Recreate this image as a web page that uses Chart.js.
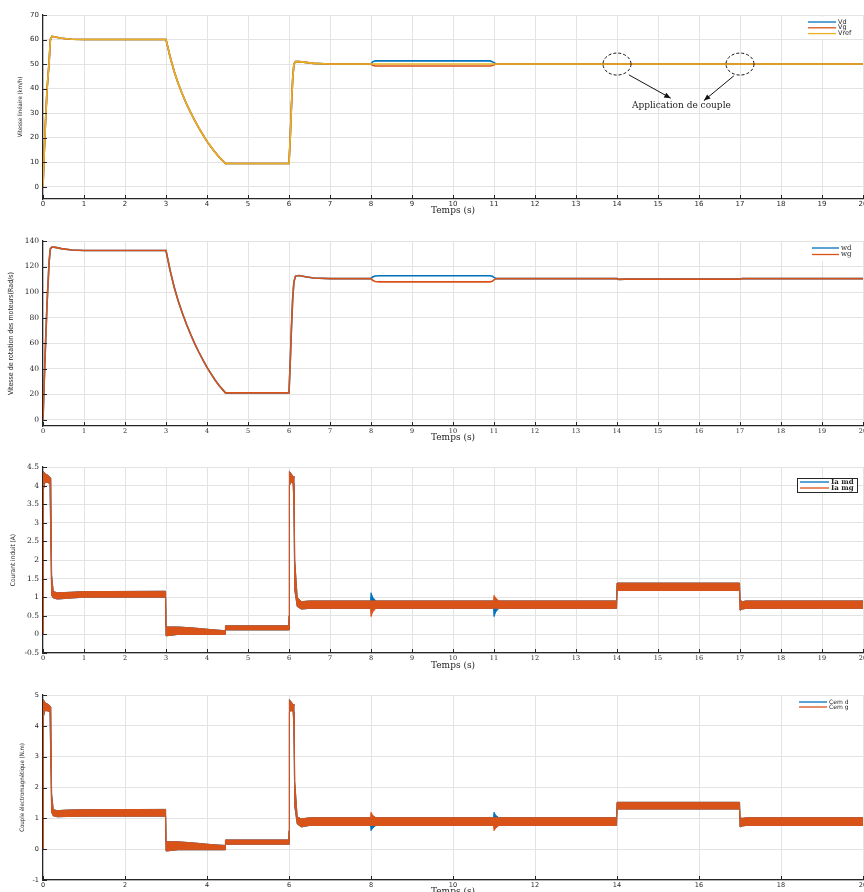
<!DOCTYPE html>
<html>
<head>
<meta charset="utf-8">
<script src="https://cdn.jsdelivr.net/npm/chart.js@4.4.1/dist/chart.umd.min.js"></script>
<style>
  html, body { margin: 0; padding: 0; background: #fff; overflow: hidden; width: 864px; height: 892px; }
  canvas { position: absolute; left: 0; }
</style>
</head>
<body>
<canvas id="vitesse-lin" width="880" height="220" style="top:0px"></canvas>
<canvas id="vitesse-rot" width="880" height="222" style="top:222px"></canvas>
<canvas id="courant" width="880" height="224" style="top:448px"></canvas>
<canvas id="couple" width="880" height="228" style="top:676px"></canvas>
<script>
const BLUE = "#0072BD";
const ORANGE = "#D95319";
const YELLOW = "#EDB120";

// graduations
const xTicks = [0, 1, 2, 3, 4, 5, 6, 7, 8, 9, 10, 11, 12, 13, 14, 15, 16, 17, 18, 19, 20];
const xTicksCouple = [0, 2, 4, 6, 8, 10, 12, 14, 16, 18, 20];
const yTicksV = [0, 10, 20, 30, 40, 50, 60, 70];
const yTicksW = [0, 20, 40, 60, 80, 100, 120, 140];
const yTicksI = [-0.5, 0, 0.5, 1, 1.5, 2, 2.5, 3, 3.5, 4, 4.5];
const yTicksC = [-1, 0, 1, 2, 3, 4, 5];

// 1) vitesse linéaire (km/h)
const tV = [0, 0.03, 0.06, 0.1, 0.15, 0.18, 0.22, 0.3, 0.45, 0.7, 1.0, 3.0, 3.1, 3.2, 3.3, 3.4, 3.5, 3.6, 3.7, 3.8, 3.9, 4.0, 4.1, 4.2, 4.3, 4.45, 6.0, 6.03, 6.06, 6.09, 6.12, 6.16, 6.25, 6.4, 6.6, 7.0, 8.0, 8.04, 8.1, 8.2, 10.9, 10.96, 11.0, 11.06, 14.0, 14.05, 14.2, 17.0, 17.05, 17.2, 20];
const vd = [0, 14, 26, 40, 51, 60, 61.3, 61, 60.5, 60.1, 60, 60, 53, 47, 42, 37.7, 33.8, 30.3, 27, 24, 21.2, 18.5, 16.2, 14, 12, 9.5, 9.5, 20, 33, 44, 50, 51, 51, 50.7, 50.3, 50, 50, 50.9, 51.3, 51.3, 51.3, 51, 50.5, 50, 50, 49.9, 50, 50, 50.1, 50, 50];
const vg = [0, 14, 26, 40, 51, 60, 61.3, 61, 60.5, 60.1, 60, 60, 53, 47, 42, 37.7, 33.8, 30.3, 27, 24, 21.2, 18.5, 16.2, 14, 12, 9.5, 9.5, 20, 33, 44, 50, 51, 51, 50.7, 50.3, 50, 50, 49.5, 49.2, 49.2, 49.2, 49.4, 49.7, 50, 50, 49.9, 50, 50, 49.9, 50, 50];
const vref = [0, 14, 26, 40, 51, 60, 61.3, 61, 60.5, 60.1, 60, 60, 53, 47, 42, 37.7, 33.8, 30.3, 27, 24, 21.2, 18.5, 16.2, 14, 12, 9.5, 9.5, 20, 33, 44, 50, 51, 51, 50.7, 50.3, 50, 50, 50, 50, 50, 50, 50, 50, 50, 50, 50, 50, 50, 50, 50, 50];

// annotation "Application de couple"
const noteTimes = [14, 17];
const noteLevel = 50;
const arrowStart = [[14.29, 45.6], [16.85, 45.2]];
const arrowEnd = [[15.31, 36.1], [16.12, 35.1]];
const noteText = "Application de couple";
const notePos = [15.57, 33];

// 2) vitesse de rotation (rad/s)
const tW = tV;
const wd = [0, 30, 58, 92, 124, 134, 135.3, 135, 134, 133, 132.5, 132.5, 117, 103.8, 92.8, 83.3, 74.7, 66.9, 59.6, 53, 46.8, 40.9, 35.8, 30.9, 26.5, 21, 21, 45, 72, 95, 108, 112.5, 113, 112, 111, 110.5, 110.5, 111.8, 112.6, 112.8, 112.8, 112.3, 111.5, 110.5, 110.5, 109.9, 110.1, 110.1, 110.6, 110.5, 110.5];
const wg = [0, 30, 58, 92, 124, 134, 135.3, 135, 134, 133, 132.5, 132.5, 117, 103.8, 92.8, 83.3, 74.7, 66.9, 59.6, 53, 46.8, 40.9, 35.8, 30.9, 26.5, 21, 21, 45, 72, 95, 108, 112.5, 113, 112, 111, 110.5, 110.5, 109.2, 108.3, 108, 108, 108.5, 109.5, 110.5, 110.5, 109.9, 110.1, 110.1, 110.6, 110.5, 110.5];

// 3) courant induit (A) : enveloppe haute / basse de l'ondulation
const tI = [0, 0.01, 0.05, 0.12, 0.17, 0.19, 0.21, 0.25, 0.35, 0.6, 1.0, 2.99, 3.0, 3.3, 3.7, 4.1, 4.44, 4.45, 5.99, 6.0, 6.01, 6.05, 6.1, 6.12, 6.14, 6.2, 6.3, 6.5, 7.99, 8.0, 8.04, 8.12, 10.99, 11.0, 11.04, 11.12, 13.99, 14.0, 16.99, 17.0, 17.06, 17.15, 20];
const iaMgHi = [0, 4.38, 4.32, 4.28, 4.22, 4.2, 1.6, 1.15, 1.12, 1.13, 1.15, 1.16, 0.2, 0.2, 0.17, 0.13, 0.1, 0.23, 0.23, 0.5, 4.38, 4.32, 4.25, 4.2, 2.0, 1.0, 0.88, 0.9, 0.9, 0.9, 0.9, 0.9, 0.9, 1.05, 0.98, 0.9, 0.9, 1.38, 1.38, 0.92, 0.88, 0.9, 0.9];
const iaMgLo = [0, 3.9, 4.1, 4.08, 4.05, 2.5, 1.05, 0.98, 0.95, 0.97, 1.0, 1.0, -0.04, 0.0, 0.0, 0.0, 0.0, 0.12, 0.12, 0.12, 4.0, 4.1, 4.05, 3.5, 1.2, 0.75, 0.68, 0.7, 0.7, 0.48, 0.6, 0.7, 0.7, 0.7, 0.7, 0.7, 0.7, 1.18, 1.18, 0.65, 0.68, 0.7, 0.7];
const iaMdHi = [0, 4.38, 4.32, 4.28, 4.22, 4.2, 1.6, 1.15, 1.12, 1.13, 1.15, 1.16, 0.2, 0.2, 0.17, 0.13, 0.1, 0.23, 0.23, 0.5, 4.38, 4.32, 4.25, 4.2, 2.0, 1.0, 0.88, 0.9, 0.9, 1.12, 1.0, 0.9, 0.9, 0.9, 0.9, 0.9, 0.9, 1.38, 1.38, 0.92, 0.88, 0.9, 0.9];
const iaMdLo = [0, 3.9, 4.1, 4.08, 4.05, 2.5, 1.05, 0.98, 0.95, 0.97, 1.0, 1.0, -0.04, 0.0, 0.0, 0.0, 0.0, 0.12, 0.12, 0.12, 4.0, 4.1, 4.05, 3.5, 1.2, 0.75, 0.68, 0.7, 0.7, 0.7, 0.7, 0.7, 0.7, 0.48, 0.6, 0.7, 0.7, 1.18, 1.18, 0.65, 0.68, 0.7, 0.7];

// 4) couple électromagnétique (N.m)
const tC = tI;
const cemGHi = [0, 4.85, 4.75, 4.7, 4.65, 4.6, 1.8, 1.28, 1.25, 1.27, 1.28, 1.29, 0.24, 0.24, 0.2, 0.15, 0.12, 0.3, 0.3, 0.6, 4.85, 4.78, 4.7, 4.65, 2.2, 1.05, 0.98, 1.02, 1.02, 1.2, 1.1, 1.02, 1.02, 1.02, 1.02, 1.02, 1.02, 1.52, 1.52, 1.02, 1.0, 1.02, 1.02];
const cemGLo = [0, 4.3, 4.5, 4.48, 4.45, 2.8, 1.2, 1.08, 1.05, 1.06, 1.07, 1.07, -0.06, -0.02, -0.02, -0.02, -0.02, 0.16, 0.16, 0.16, 4.45, 4.5, 4.45, 4.0, 1.4, 0.82, 0.72, 0.77, 0.77, 0.77, 0.77, 0.77, 0.77, 0.6, 0.68, 0.77, 0.77, 1.3, 1.3, 0.72, 0.75, 0.77, 0.77];
const cemDHi = [0, 4.85, 4.75, 4.7, 4.65, 4.6, 1.8, 1.28, 1.25, 1.27, 1.28, 1.29, 0.24, 0.24, 0.2, 0.15, 0.12, 0.3, 0.3, 0.6, 4.85, 4.78, 4.7, 4.65, 2.2, 1.05, 0.98, 1.02, 1.02, 1.02, 1.02, 1.02, 1.02, 1.2, 1.1, 1.02, 1.02, 1.52, 1.52, 1.02, 1.0, 1.02, 1.02];
const cemDLo = [0, 4.3, 4.5, 4.48, 4.45, 2.8, 1.2, 1.08, 1.05, 1.06, 1.07, 1.07, -0.06, -0.02, -0.02, -0.02, -0.02, 0.16, 0.16, 0.16, 4.45, 4.5, 4.45, 4.0, 1.4, 0.82, 0.72, 0.77, 0.77, 0.6, 0.68, 0.77, 0.77, 0.77, 0.77, 0.77, 0.77, 1.3, 1.3, 0.72, 0.75, 0.77, 0.77];

function pts(t, v) {
  return t.map((x, i) => ({ x: x, y: v[i] }));
}

function ligne(label, t, v, color, width) {
  return { label: label, data: pts(t, v), borderColor: color, borderWidth: width, pointRadius: 0, tension: 0, fill: false };
}

// bande remplie entre l'enveloppe haute et basse
function bande(label, t, hi, lo, color) {
  return [
    { label: label, data: pts(t, hi), borderColor: color, backgroundColor: color, borderWidth: 1, pointRadius: 0, fill: "+1" },
    { label: "", data: pts(t, lo), borderColor: color, borderWidth: 1, pointRadius: 0, fill: false },
  ];
}

// petites graduations intérieures façon MATLAB
const innerTicks = {
  id: "innerTicks",
  afterDraw(chart) {
    const { ctx, chartArea: a, scales: { x, y } } = chart;
    ctx.save();
    ctx.strokeStyle = "#262626";
    ctx.lineWidth = 1;
    ctx.beginPath();
    x.ticks.forEach((t) => {
      const px = Math.round(x.getPixelForValue(t.value)) + 0.5;
      ctx.moveTo(px, a.bottom);
      ctx.lineTo(px, a.bottom - 4);
    });
    y.ticks.forEach((t) => {
      const py = Math.round(y.getPixelForValue(t.value)) + 0.5;
      ctx.moveTo(a.left, py);
      ctx.lineTo(a.left + 4, py);
    });
    ctx.stroke();
    ctx.restore();
  },
};

const lineLegend = {
  id: "lineLegend",
  afterDraw(chart, args, o) {
    if (!o.items) return;
    const { ctx, chartArea: a } = chart;
    const bx = a.right + o.box[0], by = a.top + o.box[1];
    ctx.save();
    ctx.fillStyle = "#fff";
    ctx.fillRect(bx, by, o.box[2], o.box[3]);
    if (o.border) {
      ctx.strokeStyle = "#262626";
      ctx.lineWidth = 1;
      ctx.strokeRect(Math.round(bx) + 0.5, Math.round(by) + 0.5, o.box[2], o.box[3]);
    }
    ctx.font = o.font;
    ctx.textBaseline = "middle";
    o.items.forEach((it, i) => {
      const y = a.top + o.dy + i * o.row;
      const x = a.right + o.dx;
      ctx.strokeStyle = it.color;
      ctx.lineWidth = 1.3;
      ctx.beginPath();
      ctx.moveTo(x, y);
      ctx.lineTo(x + o.len, y);
      ctx.stroke();
      ctx.fillStyle = "#262626";
      ctx.fillText(it.text, x + o.len + 2, y);
    });
    ctx.restore();
  },
};

const coupleNotes = {
  id: "coupleNotes",
  afterDatasetsDraw(chart, args, o) {
    if (!o.show) return;
    const { ctx, scales: { x, y } } = chart;
    ctx.save();
    ctx.strokeStyle = "#111";
    ctx.fillStyle = "#111";
    ctx.lineWidth = 1;
    ctx.setLineDash([3, 2]);
    noteTimes.forEach((t) => {
      ctx.beginPath();
      ctx.ellipse(x.getPixelForValue(t), y.getPixelForValue(noteLevel), 14, 11, 0, 0, Math.PI * 2);
      ctx.stroke();
    });
    ctx.setLineDash([]);
    arrowStart.forEach((s, i) => {
      const x0 = x.getPixelForValue(s[0]), y0 = y.getPixelForValue(s[1]);
      const x1 = x.getPixelForValue(arrowEnd[i][0]), y1 = y.getPixelForValue(arrowEnd[i][1]);
      const ang = Math.atan2(y1 - y0, x1 - x0);
      ctx.beginPath();
      ctx.moveTo(x0, y0);
      ctx.lineTo(x1, y1);
      ctx.stroke();
      ctx.beginPath();
      ctx.moveTo(x1, y1);
      ctx.lineTo(x1 - 7 * Math.cos(ang - 0.4), y1 - 7 * Math.sin(ang - 0.4));
      ctx.lineTo(x1 - 7 * Math.cos(ang + 0.4), y1 - 7 * Math.sin(ang + 0.4));
      ctx.closePath();
      ctx.fill();
    });
    ctx.font = "9px 'DejaVu Serif'";
    ctx.textAlign = "center";
    ctx.textBaseline = "middle";
    ctx.fillStyle = "#222";
    ctx.fillText(noteText, x.getPixelForValue(notePos[0]), y.getPixelForValue(notePos[1]));
    ctx.restore();
  },
};

function makeChart(id, datasets, c) {
  return new Chart(document.getElementById(id), {
    type: "line",
    data: { datasets: datasets },
    plugins: [innerTicks, lineLegend, coupleNotes],
    options: {
      responsive: false,
      animation: false,
      devicePixelRatio: 1,
      layout: { padding: { top: c.padTop, right: 17, left: 0, bottom: 0 } },
      plugins: {
        legend: { display: false },
        tooltip: { enabled: false },
        lineLegend: c.legend,
        coupleNotes: { show: !!c.notes },
      },
      scales: {
        x: {
          type: "linear",
          min: 0,
          max: 20,
          afterBuildTicks: (s) => { s.ticks = c.xTicks.map((v) => ({ value: v })); },
          afterFit: (s) => { s.height = c.xAxisH; },
          ticks: { font: c.xFont, color: "#262626", padding: 1, maxRotation: 0, autoSkip: false, callback: (v) => String(v) },
          grid: { color: "#e3e3e3", lineWidth: 1, drawTicks: false },
          border: { color: "#262626", width: 1.2 },
          title: { display: true, text: "Temps (s)", color: "#262626", font: { family: "'DejaVu Serif'", size: 9 }, padding: { top: 0, bottom: c.xTitlePad } },
        },
        y: {
          min: c.yMin,
          max: c.yMax,
          afterBuildTicks: (s) => { s.ticks = c.yTicks.map((v) => ({ value: v })); },
          afterFit: (s) => { s.width = 43; },
          ticks: { font: c.yFont, color: "#262626", padding: 4, autoSkip: false, callback: (v) => String(v) },
          grid: { color: "#e3e3e3", lineWidth: 1, drawTicks: false },
          border: { color: "#262626", width: 1.2 },
          title: { display: true, text: c.yTitle, color: "#262626", font: { family: "'Liberation Sans Narrow', 'DejaVu Sans Condensed', sans-serif", size: c.yTitleSize }, padding: { top: c.yTitlePad, bottom: 0 } },
        },
      },
    },
  });
}

const sansTick = { family: "'DejaVu Sans'", size: 7 };
const serifTick = { family: "'DejaVu Serif'", size: 7.5 };
const serifTickX = { family: "'DejaVu Serif'", size: 6.5 };

makeChart("vitesse-lin", [
  ligne("Vref", tV, vref, YELLOW, 1.6),
  ligne("Vg", tV, vg, ORANGE, 1.6),
  ligne("Vd", tV, vd, BLUE, 1.6),
], {
  padTop: 15, xAxisH: 21, xTitlePad: 3.6, yMin: -5, yMax: 70, yTicks: yTicksV, xTicks: xTicks,
  xFont: sansTick, yFont: sansTick, yTitle: "Vitesse linéaire (km/h)", yTitleSize: 6, yTitlePad: 16.4,
  notes: true,
  legend: { items: [{ text: "Vd", color: BLUE }, { text: "Vg", color: ORANGE }, { text: "Vref", color: YELLOW }],
    box: [-58, 2, 57, 22], dx: -55, dy: 7, row: 5.8, len: 28, font: "6.5px 'DejaVu Sans'" },
});

makeChart("vitesse-rot", [
  ligne("wg", tW, wg, ORANGE, 1.6),
  ligne("wd", tW, wd, BLUE, 1.6),
], {
  padTop: 19, xAxisH: 18, xTitlePad: 1, yMin: -5, yMax: 140, yTicks: yTicksW, xTicks: xTicks,
  xFont: serifTickX, yFont: serifTick, yTitle: "Vitesse de rotation des moteurs(Rad/s)", yTitleSize: 7, yTitlePad: 6.8,
  legend: { items: [{ text: "wd", color: BLUE }, { text: "wg", color: ORANGE }],
    box: [-54, 2, 53, 18], dx: -51, dy: 7, row: 6.5, len: 27, font: "7px 'DejaVu Serif'" },
});

makeChart("courant", [
  ...bande("Ia mg", tI, iaMgHi, iaMgLo, ORANGE),
  ...bande("Ia md", tI, iaMdHi, iaMdLo, BLUE),
], {
  padTop: 19, xAxisH: 19, xTitlePad: 1, yMin: -0.5, yMax: 4.5, yTicks: yTicksI, xTicks: xTicks,
  xFont: serifTickX, yFont: serifTick, yTitle: "Courant induit (A)", yTitleSize: 6.5, yTitlePad: 9,
  legend: { items: [{ text: "Ia md", color: BLUE }, { text: "Ia mg", color: ORANGE }], border: true,
    box: [-66, 11, 60, 14], dx: -63, dy: 15, row: 6, len: 29, font: "bold 7px 'DejaVu Serif'" },
});

makeChart("couple", [
  ...bande("Cem g", tC, cemGHi, cemGLo, ORANGE),
  ...bande("Cem d", tC, cemDHi, cemDLo, BLUE),
], {
  padTop: 19, xAxisH: 24, xTitlePad: 6.6, yMin: -1, yMax: 5, yTicks: yTicksC, xTicks: xTicksCouple,
  xFont: { family: "'DejaVu Sans'", size: 6.5 }, yFont: { family: "'DejaVu Sans'", size: 6.5 },
  yTitle: "Couple électromagnétique (N.m)", yTitleSize: 6, yTitlePad: 18.4,
  legend: { items: [{ text: "Cem d", color: BLUE }, { text: "Cem g", color: ORANGE }],
    box: [-67, 2, 66, 16], dx: -64, dy: 7, row: 5, len: 28, font: "6px 'DejaVu Sans'" },
});
</script>
</body>
</html>
